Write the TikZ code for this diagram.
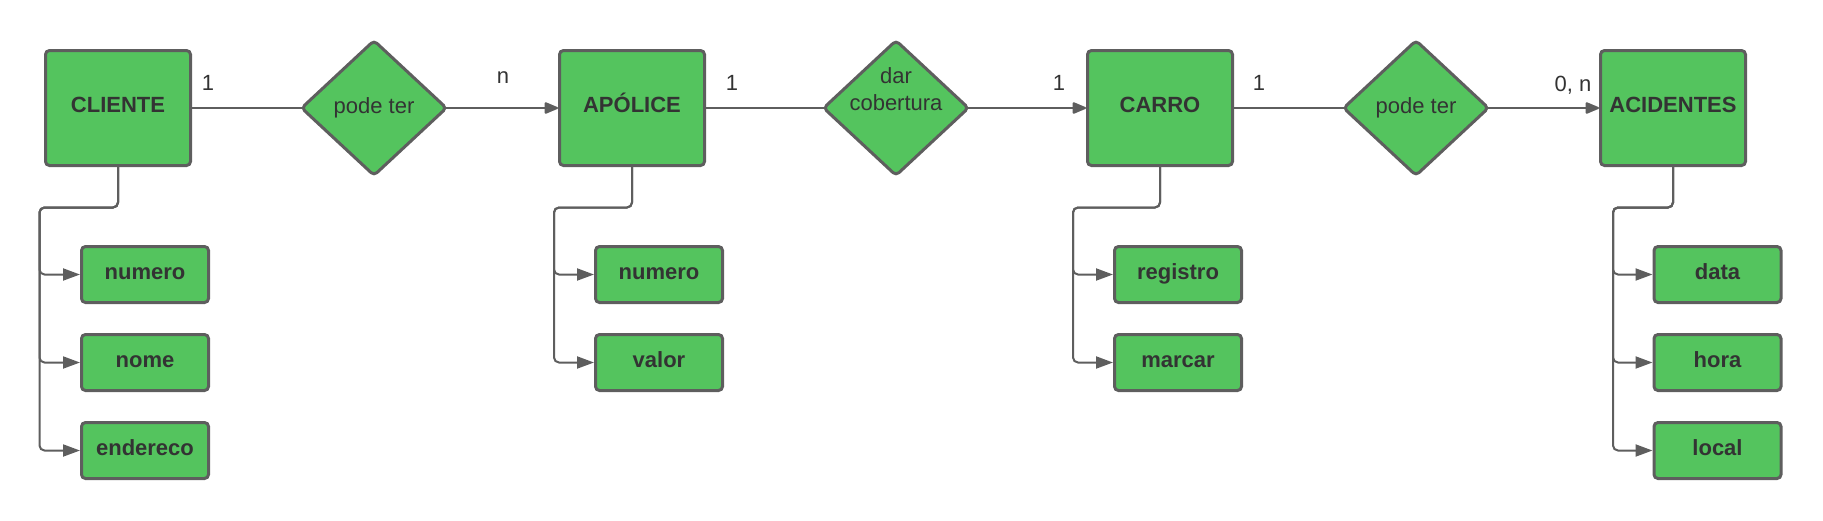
\documentclass[tikz,border=0pt]{standalone}
\usepackage{fontspec}
\setmainfont{Liberation Sans}
\usetikzlibrary{shapes.geometric,arrows.meta}
\definecolor{gfill}{RGB}{84,196,94}
\definecolor{gline}{RGB}{94,94,94}
\definecolor{gtext}{RGB}{51,51,51}
\begin{document}
\begin{tikzpicture}[x=1pt,y=-1pt,
  every node/.style={text=gtext},
  entity/.style={draw=gline, line width=3pt, fill=gfill, rounded corners=4pt,
    minimum width=145pt, minimum height=115pt, inner sep=0pt,
    font=\fontsize{22}{27}\selectfont\bfseries, text height=16pt, text depth=7pt},
  attr/.style={draw=gline, line width=3pt, fill=gfill, rounded corners=4pt,
    minimum width=127pt, minimum height=56pt, inner sep=0pt,
    font=\fontsize{22}{27}\selectfont\bfseries, text height=16pt, text depth=6.5pt},
  rel/.style={diamond, draw=gline, line width=3pt, fill=gfill, rounded corners=4pt,
    minimum width=146pt, minimum height=136pt, inner sep=0pt},
  rtext/.style={font=\fontsize{22}{27}\selectfont, text height=16pt, text depth=6pt, inner sep=0pt},
  rtext2/.style={font=\fontsize{22}{27.3}\selectfont, align=center, inner sep=0pt},
  card/.style={font=\fontsize{22}{27}\selectfont, anchor=base, inner sep=0pt},
  conn/.style={draw=gline, line width=2pt, shorten >=-3pt},
  conna/.style={draw=gline, line width=2pt, shorten <=-3pt, -{Triangle[length=15pt,width=12pt,round]}},
  branch/.style={draw=gline, line width=2pt, rounded corners=5pt, -{Triangle[length=17pt,width=12pt]}},
]
\useasboundingbox (0,0) rectangle (1823,520);

% entities
\node[entity] (cl) at (118,108) {CLIENTE};
\node[entity] (ap) at (632,108) {APÓLICE};
\node[entity] (ca) at (1160,108) {CARRO};
\node[entity] (ac) at (1673,108) {ACIDENTES};

% relationships
\node[rel] (d1) at (374,108) {};
\node[rel] (d2) at (896,108) {};
\node[rel] (d3) at (1416,108) {};
\node[rtext] (d1t) at (d1.center) {pode ter};
\node[rtext2] (d2t) at (896,89) {dar\\cobertura};
\node[rtext] (d3t) at (d3.center) {pode ter};

% cardinalities
\node[card] (k1) at (208,90) {1};
\node[card] (k2) at (503,83) {n};
\node[card] (k3) at (732,90) {1};
\node[card] (k4) at (1059,90) {1};
\node[card] (k5) at (1259,90) {1};
\node[card] (k6) at (1573,91) {0, n};

% main connectors
\draw[conn] (cl.east) -- (d1.west);
\draw[conna] (d1.east) -- (ap.west);
\draw[conn] (ap.east) -- (d2.west);
\draw[conna] (d2.east) -- (ca.west);
\draw[conn] (ca.east) -- (d3.west);
\draw[conna] (d3.east) -- (ac.west);

% attributes
\node[attr] (cl1) at (145,274.5) {numero};
\node[attr] (cl2) at (145,362.5) {nome};
\node[attr] (cl3) at (145,450.5) {endereco};
\node[attr] (ap1) at (659,274.5) {numero};
\node[attr] (ap2) at (659,362.5) {valor};
\node[attr] (ca1) at (1178,274.5) {registro};
\node[attr] (ca2) at (1178,362.5) {marcar};
\node[attr] (ac1) at (1717.5,274.5) {data};
\node[attr] (ac2) at (1717.5,362.5) {hora};
\node[attr] (ac3) at (1717.5,450.5) {local};

% branch corners
\coordinate (clv) at (39.5,207.5);
\coordinate (apv) at (554,207.5);
\coordinate (cav) at (1073,207.5);
\coordinate (acv) at (1613,207.5);

\draw[branch] (cl.south) |- (clv) |- (cl3.west);
\draw[branch] (cl.south) |- (clv) |- (cl2.west);
\draw[branch] (cl.south) |- (clv) |- (cl1.west);
\draw[branch] (ap.south) |- (apv) |- (ap2.west);
\draw[branch] (ap.south) |- (apv) |- (ap1.west);
\draw[branch] (ca.south) |- (cav) |- (ca2.west);
\draw[branch] (ca.south) |- (cav) |- (ca1.west);
\draw[branch] (ac.south) |- (acv) |- (ac3.west);
\draw[branch] (ac.south) |- (acv) |- (ac2.west);
\draw[branch] (ac.south) |- (acv) |- (ac1.west);
\end{tikzpicture}
\end{document}
